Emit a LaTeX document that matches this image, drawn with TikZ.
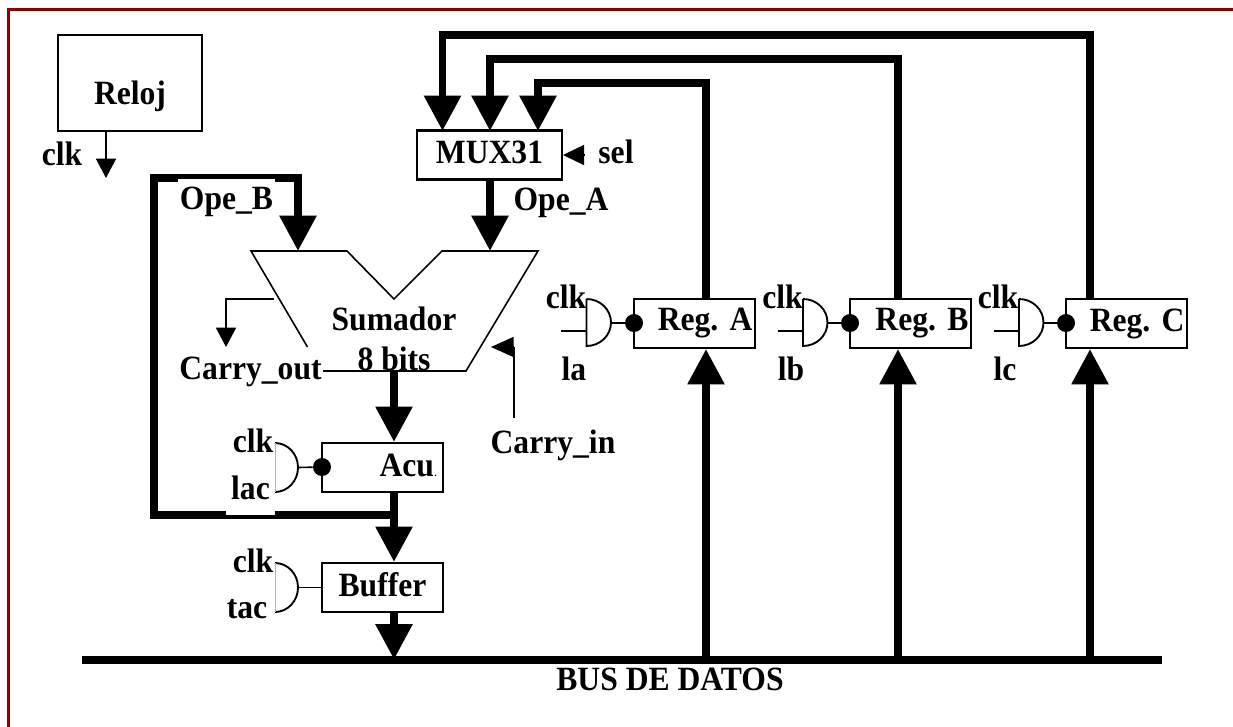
\documentclass[tikz,border=0pt]{standalone}
\usepackage{fontspec}
\setmainfont[FakeStretch=0.93]{Liberation Serif}
\usetikzlibrary{arrows.meta}
\tikzset{
  etiq/.style={font=\fontsize{25.5}{28}\selectfont\bfseries,inner sep=0pt},
  caja/.style={draw,line width=1.6pt,etiq,minimum height=36.75pt},
  cajareg/.style={caja,minimum width=90.75pt,text width=87pt,align=right,inner sep=1.9pt},
  fino/.style={line width=1.2pt},
  grueso/.style={line width=5.8pt},
  flechag/.style={grueso,-{Triangle[length=26.5pt,width=26.5pt]}},
  flechaf/.style={fino,-{Triangle[length=14.5pt,width=15pt]}},
  puerta/.style={line width=1.4pt},
  burbuja/.style={circle,fill=black,inner sep=0pt,minimum size=13.5pt},
  borde/.style={line width=1.9pt,draw={rgb,255:red,139;green,0;blue,0}}
}
\begin{document}
\begin{tikzpicture}[x=0.75pt,y=-0.75pt]
  \useasboundingbox (0,0) rectangle (1233,727);

  % Marco
  \draw [borde] (8.5,727) -- (8.5,9.5) -- (1233,9.5);

  % Reloj
  \node [caja,minimum width=108pt,minimum height=72pt] (reloj) at (130,83) {\raisebox{-16.5pt}[0pt][0pt]{Reloj}};%
  \node [etiq] (clkreloj) at (62,154) {clk};%
  \coordinate (relojsal) at (106,131);%
  \coordinate (relojfin) at (106,178);%
  \draw [flechaf] (relojsal) -- (relojfin);%

  % MUX31
  \node [caja,minimum width=108.75pt] (mux) at (489.5,155) {\raisebox{4pt}{MUX31}};%
  \node [etiq] (sel) at (616,152) {sel};%
  \node [etiq] (opea) at (561,203) {Ope\_A};%
  \coordinate (selini) at (584,155);%
  \coordinate (selfin) at (563,155);%
  \draw [fino,-{Triangle[length=15.8pt,width=15pt]}] (selini) -- (selfin);%

  % Sumador
  \coordinate (sumA) at (251,251);%
  \coordinate (sumB) at (538,251);%
  \draw [fino] (307.5,347) -- (sumA) -- (347,251) -- (394,299) -- (442,251) -- (sumB) -- (466,371) -- (323,371);%
  \node [etiq,align=center] (sumador) at (394,339) {Sumador\\[2pt]8 bits};%
  \node [etiq] (cout) at (250.5,372) {Carry\_out};%
  \node [etiq] (cin) at (553,445) {Carry\_in};%

  % Carry_out
  \coordinate (coutini) at (274,299);%
  \coordinate (coutfin) at (226,347);%
  \draw [flechaf] (coutini) -| (coutfin);%

  % Carry_in
  \coordinate (cinini) at (514,418);%
  \coordinate (cincod) at (514,347);%
  \coordinate (cinfin) at (491,347);%
  \draw [fino] (cinini) -- (cincod);%
  \draw [fino,-{Triangle[length=17pt,width=15pt]}] (cincod) -- (cinfin);%

  % Acumulador
  \node [cajareg,minimum width=90.75pt,text width=86pt] (acu) at (382.5,467.5) {\raisebox{4pt}{Acu{\fontsize{10}{10}\selectfont\mdseries.}\hspace{2pt}}};%
  \node [burbuja] (bacu) at (322,467) {};%

  % Buffer
  \node [caja,minimum width=90.75pt] (buffer) at (382.5,587.5) {\raisebox{4pt}{Buffer}};%

  % Bus
  \coordinate (busA) at (82,659.5);%
  \coordinate (busB) at (1162,659.5);%
  \draw [line width=6pt] (busA) -- (busB);%
  \node [etiq] (busdatos) at (670,679) {BUS DE DATOS};%

  % Registros
  \node [cajareg] (rega) at (694.5,323.5) {Reg.\ A};%
  \node [cajareg] (regb) at (910.5,323.5) {Reg.\ B};%
  \node [cajareg] (regc) at (1126.5,323.5) {Reg.\ C};%

  % Rutas hacia el mux
  \coordinate (muxa) at (538,131);%
  \coordinate (muxb) at (490,131);%
  \coordinate (muxc) at (442.5,131);%
  \coordinate (topa) at (706,83);%
  \coordinate (topb) at (898,59);%
  \coordinate (topc) at (1090,35);%
  \draw [flechag] (rega.north -| topa) -- (topa) -- (topa -| muxa) -- (muxa);%
  \draw [flechag] (regb.north -| topb) -- (topb) -- (topb -| muxb) -- (muxb);%
  \draw [flechag] (regc.north -| topc) -- (topc) -- (topc -| muxc) -- (muxc);%

  % Ope_A
  \coordinate (suma) at (490,251);%
  \draw [flechag] (mux.south -| suma) -- (suma);%

  % Ope_B
  \coordinate (sumb) at (298,251);%
  \coordinate (lazo) at (154,515);%
  \coordinate (lazofin) at (394,515);%
  \draw [flechag] (lazofin) -- (lazo) -- (154,178) -- (298,178) -- (sumb);%
  \node [etiq,fill=white,minimum width=72.75pt,minimum height=34.5pt] (opeb) at (226.5,202) {Ope\_B};%

  % Sumador a Acu, Acu a Buffer, Buffer al bus
  \coordinate (sumsal) at (394,371);%
  \draw [flechag] (sumsal) -- (sumsal |- acu.north);%
  \draw [flechag] (acu.south -| sumsal) -- (sumsal |- buffer.north);%
  \draw [flechag] (buffer.south -| sumsal) -- (sumsal |- busA);%

  % Buses hacia los registros
  \draw [flechag] (topa |- busA) -- (rega.south -| topa);%
  \draw [flechag] (topb |- busA) -- (regb.south -| topb);%
  \draw [flechag] (topc |- busA) -- (regc.south -| topc);%

  % Puerta de Acu
  \node [etiq,fill=white,minimum width=36.75pt,minimum height=40.5pt,anchor=south] (lac) at (250.5,515) {lac};%
  \node [etiq] (clkacu) at (253,441) {clk};%
  \draw [puerta] (275,492) arc (-90:90:23 and -24.5);%
  \draw [line width=0.3pt,gray!60] (275,443) -- (275,492);%
  \coordinate (pacu) at (298,467.5);%
  \draw [fino] (pacu) -- (bacu);%

  % Puerta de Buffer
  \node [etiq] (tac) at (247,609) {tac};%
  \node [etiq] (clkbuf) at (253,561) {clk};%
  \draw [puerta] (275,612) arc (-90:90:23 and -24.5);%
  \draw [line width=0.3pt,gray!60] (275,563) -- (275,612);%
  \coordinate (pbuf) at (298,587.5);%
  \draw [fino] (pbuf) -- (buffer.west);%

  % Puerta de Reg. A
  \node [burbuja] (ba) at (634,323) {};%
  \node [etiq] (clka) at (566,297) {clk};%
  \node [etiq] (la) at (574,369) {la};%
  \draw [puerta] (586.5,299) -- (586.5,346) arc (-90:90:24.5 and -23.5);%
  \coordinate (pa) at (611,323);%
  \coordinate (ina) at (561,331);%
  \draw [fino] (pa) -- (ba);%
  \draw [fino] (ina) -- (ina -| 586.5,0);%

  % Puerta de Reg. B
  \node [burbuja] (bb) at (850,323) {};%
  \node [etiq] (clkb) at (782.5,297) {clk};%
  \node [etiq] (lb) at (791,369) {lb};%
  \draw [puerta] (803,299) -- (803,346) arc (-90:90:24.5 and -23.5);%
  \coordinate (pb) at (827.5,323);%
  \coordinate (inb) at (777.5,331);%
  \draw [fino] (pb) -- (bb);%
  \draw [fino] (inb) -- (inb -| 803,0);%

  % Puerta de Reg. C
  \node [burbuja] (bc) at (1066,323) {};%
  \node [etiq] (clkc) at (998,297) {clk};%
  \node [etiq] (lc) at (1005,369) {lc};%
  \draw [puerta] (1019,299) -- (1019,346) arc (-90:90:24.5 and -23.5);%
  \coordinate (pc) at (1043.5,323);%
  \coordinate (inc) at (994,331);%
  \draw [fino] (pc) -- (bc);%
  \draw [fino] (inc) -- (inc -| 1019,0);%
\end{tikzpicture}
\end{document}
